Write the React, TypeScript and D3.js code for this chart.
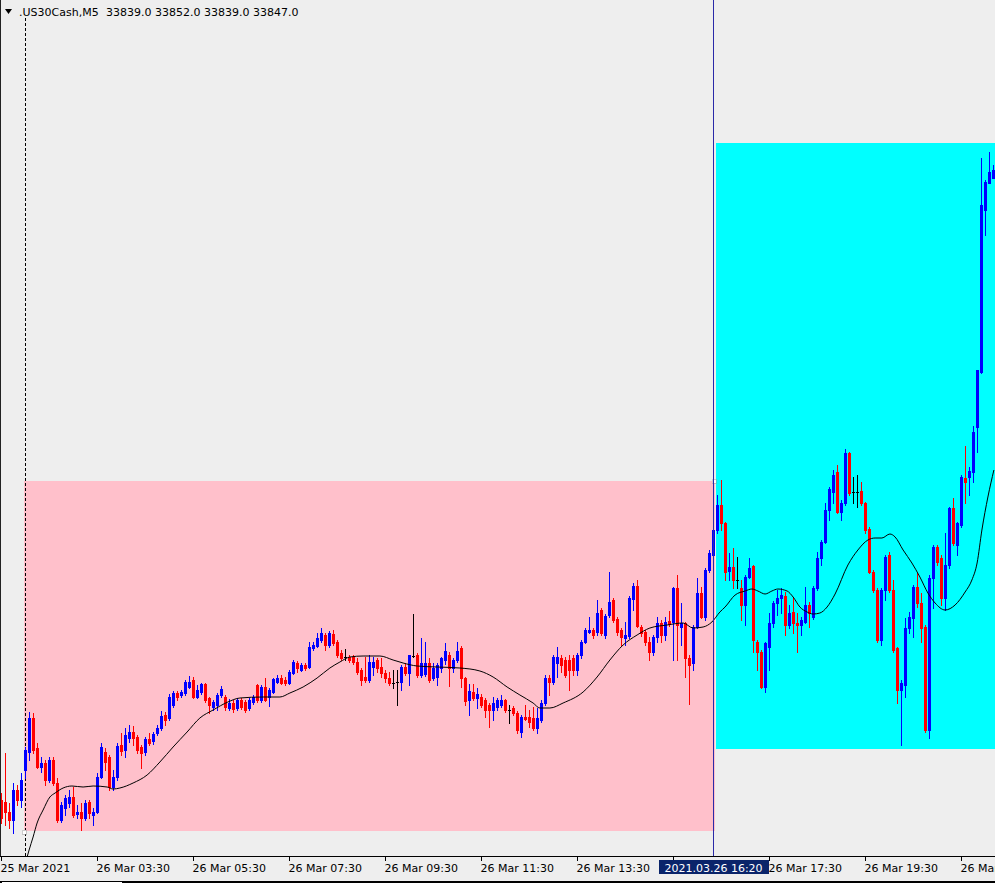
import React from 'react';
import * as d3 from 'd3';

const W = 995;
const H = 883;
const SYMBOL = '.US30Cash,M5';

const opens = [33217,33215,33205,33197,33227,33217,33247,33265,33299,33269,33250,33254,33237,33257,33234,33197,33209,33214,33220,33203,33205,33199,33215,33202,33205,33240,33265,33260,33230,33240,33272,33267,33279,33285,33280,33270,33265,33278,33276,33284,33289,33302,33299,33312,33324,33322,33324,33330,33337,33320,33325,33333,33319,33310,33312,33322,33320,33309,33314,33309,33317,33315,33309,33315,33332,33317,33330,33320,33325,33335,33339,33337,33334,33344,33354,33347,33352,33350,33369,33371,33377,33382,33372,33383,33375,33364,33360,33360,33360,33355,33347,33340,33337,33350,33357,33350,33344,33339,33334,33335,33335,33350,33344,33361,33362,33342,33343,33354,33339,33340,33349,33357,33362,33349,33357,33369,33339,33317,33325,33319,33320,33317,33312,33307,33310,33312,33317,33307,33309,33304,33285,33300,33300,33299,33289,33297,33314,33339,33335,33354,33359,33357,33357,33359,33347,33362,33375,33385,33387,33385,33407,33382,33402,33417,33398,33387,33379,33381,33418,33431,33390,33385,33375,33365,33380,33394,33382,33396,33395,33429,33390,33394,33359,33354,33390,33424,33400,33447,33462,33487,33512,33494,33446,33450,33437,33429,33412,33440,33451,33375,33365,33330,33370,33394,33414,33419,33421,33392,33405,33394,33392,33395,33412,33400,33429,33459,33475,33507,33525,33545,33505,33514,33564,33525,33525,33526,33514,33488,33445,33427,33377,33427,33462,33427,33369,33327,33332,33389,33399,33430,33414,33390,33287,33439,33470,33459,33419,33452,33509,33472,33492,33539,33540,33545,33590,33645,33807,33834,33839];
const highs = [33224,33264,33214,33234,33232,33244,33270,33305,33304,33274,33260,33257,33260,33260,33239,33215,33222,33227,33230,33212,33214,33217,33217,33209,33244,33274,33269,33262,33247,33274,33284,33289,33292,33291,33282,33272,33280,33284,33285,33292,33306,33305,33323,33326,33326,33327,33337,33341,33340,33332,33334,33334,33320,33317,33324,33331,33322,33318,33317,33319,33319,33317,33319,33322,33333,33332,33339,33329,33339,33342,33342,33340,33347,33357,33356,33354,33354,33375,33375,33384,33389,33384,33386,33387,33377,33367,33368,33362,33362,33359,33349,33360,33362,33360,33359,33359,33347,33345,33347,33347,33352,33354,33362,33403,33364,33379,33375,33359,33354,33354,33360,33374,33365,33359,33375,33371,33340,33333,33333,33329,33323,33319,33314,33320,33319,33322,33318,33312,33311,33306,33302,33312,33307,33310,33309,33317,33342,33342,33362,33370,33362,33360,33362,33362,33364,33377,33389,33400,33389,33417,33409,33403,33445,33419,33400,33389,33395,33421,33434,33437,33392,33387,33380,33382,33400,33397,33400,33406,33430,33442,33414,33395,33362,33392,33439,33430,33449,33467,33489,33522,33537,33495,33464,33469,33460,33437,33442,33459,33452,33377,33367,33375,33404,33416,33427,33429,33425,33412,33420,33404,33400,33430,33415,33431,33465,33477,33514,33530,33547,33552,33517,33568,33565,33540,33542,33535,33515,33490,33447,33429,33429,33462,33465,33437,33370,33337,33399,33405,33432,33444,33424,33392,33442,33472,33472,33462,33484,33510,33519,33495,33542,33571,33550,33591,33647,33859,33837,33865,33852];
const lows = [33194,33192,33189,33184,33212,33210,33239,33257,33264,33249,33245,33232,33235,33232,33195,33195,33202,33210,33200,33199,33187,33197,33199,33192,33204,33239,33247,33227,33227,33237,33262,33260,33275,33272,33264,33249,33262,33272,33273,33282,33287,33292,33297,33310,33317,33320,33322,33329,33319,33319,33323,33315,33304,33307,33307,33320,33307,33307,33305,33307,33308,33305,33307,33313,33315,33315,33316,33311,33324,33334,33333,33332,33333,33343,33345,33346,33347,33349,33367,33370,33375,33367,33370,33372,33360,33357,33357,33355,33353,33343,33332,33335,33335,33342,33345,33340,33335,33332,33329,33312,33327,33342,33332,33360,33340,33340,33341,33335,33337,33332,33345,33353,33331,33345,33355,33330,33312,33302,33317,33309,33310,33300,33290,33297,33307,33310,33305,33294,33302,33284,33280,33297,33290,33287,33284,33295,33312,33322,33333,33340,33345,33340,33327,33342,33342,33359,33374,33384,33379,33382,33382,33379,33400,33395,33382,33372,33372,33379,33407,33390,33381,33372,33357,33362,33375,33375,33377,33391,33357,33357,33372,33340,33313,33347,33389,33399,33397,33445,33459,33484,33487,33437,33437,33429,33429,33397,33392,33439,33365,33347,33329,33325,33347,33390,33402,33404,33382,33389,33384,33365,33382,33394,33390,33398,33427,33452,33474,33497,33514,33504,33497,33512,33522,33514,33510,33512,33484,33444,33425,33375,33372,33417,33425,33365,33314,33272,33320,33384,33380,33410,33375,33285,33279,33409,33452,33412,33407,33449,33472,33462,33490,33514,33522,33535,33565,33644,33782,33834,33839];
const closes = [33199,33205,33197,33227,33217,33237,33267,33299,33267,33250,33254,33237,33257,33234,33197,33212,33219,33220,33202,33205,33199,33214,33204,33205,33240,33270,33255,33230,33240,33271,33266,33282,33285,33279,33267,33264,33278,33274,33283,33289,33301,33297,33320,33324,33320,33325,33335,33335,33320,33327,33333,33317,33312,33315,33322,33328,33310,33314,33308,33317,33310,33307,33317,33320,33317,33330,33317,33327,33338,33339,33334,33334,33345,33355,33349,33352,33349,33370,33372,33379,33384,33372,33384,33374,33362,33359,33360,33357,33355,33345,33337,33337,33355,33355,33349,33344,33339,33334,33334,33335,33350,33344,33362,33361,33342,33354,33354,33337,33349,33352,33359,33366,33349,33357,33366,33339,33316,33326,33319,33323,33312,33307,33307,33314,33317,33317,33307,33307,33304,33287,33300,33298,33295,33289,33299,33314,33339,33335,33360,33360,33352,33342,33347,33347,33362,33375,33387,33387,33382,33404,33384,33401,33415,33397,33385,33380,33382,33419,33431,33391,33384,33375,33365,33380,33394,33382,33395,33393,33429,33392,33394,33359,33352,33390,33424,33400,33447,33464,33487,33512,33494,33445,33450,33437,33437,33412,33440,33449,33377,33365,33330,33374,33394,33414,33419,33422,33392,33404,33394,33392,33397,33412,33404,33429,33459,33475,33507,33528,33542,33505,33514,33564,33524,33525,33525,33514,33487,33445,33427,33377,33427,33460,33427,33367,33327,33334,33389,33400,33430,33414,33389,33287,33439,33470,33455,33419,33452,33509,33474,33494,33540,33535,33546,33585,33647,33812,33835,33845,33847];

// moving average: bar index and value
const maBars = [6.4,6.9,7.9,8.9,10.4,12.1,13.4,15.4,17.6,20.4,22.9,26.4,27.9,29.6,32.9,36.4,39.6,42.9,46.4,49.6,52.9,56.6,59.6,65.4,69.6,72.1,75.4,78.9,82.1,84.6,87.1,90.4,94.6,97.9,100.4,103.9,108.9,114.6,119.6,122.9,126.4,129.6,132.9,134.6,137.1,140.4,145.4,148.9,152.1,155.4,158.9,162.1,166.4,170.4,172.9,175.4,177.6,179.6,180.9,183.4,185.9,187.6,189.1,190.9,192.6,194.1,196.4,197.9,199.6,201.4,202.9,204.6,206.4,208.4,211.6,214.1,216.6,218.4,220.1,222.1,223.4,225.4,227.6,229.6,231.6,233.4,235.9,238.4,240.9,242.6,243.9,245.1,246.6,248.1];
const maValues = [33160,33167,33180,33194,33207,33220,33224,33229,33231,33230,33231,33230,33228,33229,33234,33242,33255,33270,33285,33299,33307,33315,33319,33320,33320,33324,33330,33339,33349,33355,33360,33361,33361,33357,33354,33351,33350,33349,33346,33340,33330,33322,33314,33309,33309,33314,33325,33340,33357,33372,33382,33389,33392,33394,33389,33390,33395,33405,33410,33422,33426,33428,33426,33423,33426,33428,33426,33420,33410,33405,33403,33404,33410,33423,33452,33467,33477,33479,33479,33483,33480,33467,33454,33440,33424,33414,33407,33412,33425,33437,33454,33487,33520,33547];

const tickBars = [0, 24, 48, 72, 96, 120, 144, 168, 192, 216, 240];
const tickLabels = ['25 Mar 2021', '26 Mar 03:30', '26 Mar 05:30', '26 Mar 07:30', '26 Mar 09:30', '26 Mar 11:30', '26 Mar 13:30', '26 Mar 15:30', '26 Mar 17:30', '26 Mar 19:30', '26 Mar 21:30'];

const separatorBar = 6;
const cursorBar = 178;
const cursorLabel = '2021.03.26 16:20';

// zones: [startBar, endBar, topPrice, bottomPrice]
const pinkZone = [5.9, 178.65, 33536, 33186];
const cyanZone = [178.9, 250, 33874, 33268];

const FONT = '"DejaVu Sans", Verdana, sans-serif';
const PLOT_BOTTOM = 857;

export default function App() {
  const n = Math.min(opens.length, highs.length, lows.length, closes.length);
  const x = d3.scaleLinear().domain([0, 1]).range([1.5, 5.5]);
  const y = d3.scaleLinear().domain([33160, 34017]).range([PLOT_BOTTOM, 0]);

  const maLine = d3
    .line<number>()
    .x((_, i) => x(maBars[i]))
    .y((d) => y(d))
    .curve(d3.curveMonotoneX);

  const last = n - 1;
  const headerVals = [opens[last], highs[last], lows[last], closes[last]].map((v) => Number(v).toFixed(1)).join(' ');

  const zoneRect = (z: number[], fill: string) => (
    <rect
      x={x(z[0]) - 1.5}
      y={y(z[2])}
      width={x(z[1]) - x(z[0])}
      height={y(z[3]) - y(z[2])}
      fill={fill}
    />
  );

  const cx = x(cursorBar);
  const boxL = cx - 55;
  const boxR = cx + 55;
  const idx = d3.range(n);
  // labels hidden under the cursor time box are not drawn (as in the terminal)
  const visibleTicks = tickBars
    .map((b, i) => ({ b, label: tickLabels[i] }))
    .filter(({ b }) => !(x(b) > boxL - 4 && x(b) < boxR));

  return (
    <svg width={W} height={H} style={{ display: 'block', position: 'absolute', left: 0, top: 0 }} shapeRendering="crispEdges">
      <rect x={0} y={0} width={W} height={H} fill="#EEEEEE" />
      <defs>
        <clipPath id="plot">
          <rect x={0} y={0} width={W} height={PLOT_BOTTOM} />
        </clipPath>
      </defs>
      {zoneRect(pinkZone, '#FFC0CB')}
      {zoneRect(cyanZone, '#00FFFF')}
      <line x1={x(separatorBar) - 0.5} x2={x(separatorBar) - 0.5} y1={18} y2={PLOT_BOTTOM} stroke="#000" strokeDasharray="3,2" />
      <g clipPath="url(#plot)">
        {idx.map((i) => {
          const o = opens[i];
          const c = closes[i];
          const col = o === c ? '#000000' : c > o ? '#0000FF' : '#FF0000';
          const cxi = x(i);
          const top = y(Math.max(o, c));
          const bot = y(Math.min(o, c));
          return (
            <g key={i}>
              <rect x={cxi - 0.5} y={y(highs[i])} width={1} height={y(lows[i]) - y(highs[i]) + 1} fill={col} />
              <rect x={cxi - 1.5} y={top} width={3} height={bot - top + 1} fill={col} />
            </g>
          );
        })}
        <path d={maLine(maValues) || ''} fill="none" stroke="#000" strokeWidth={1} shapeRendering="auto" />
      </g>
      <rect x={x(pinkZone[0]) - 3} y={y(pinkZone[3]) - 1} width={4} height={4} fill="#fff" stroke="#999" strokeWidth={0.5} />
      <rect x={x(pinkZone[1]) - 4} y={y(pinkZone[2]) - 2} width={4} height={4} fill="#fff" stroke="#999" strokeWidth={0.5} />
      <line x1={cx - 0.5} x2={cx - 0.5} y1={0} y2={PLOT_BOTTOM} stroke="#2A2AA8" />
      <line x1={0.5} x2={0.5} y1={0} y2={PLOT_BOTTOM} stroke="#222" />
      {/* header */}
      <path d="M5,9 L12,9 L8.5,14 Z" fill="#000" shapeRendering="auto" />
      <text x={19} y={16} fontFamily={FONT} fontSize={11} fill="#000">{SYMBOL}</text>
      <text x={106} y={16} fontFamily={FONT} fontSize={11} fill="#000">{headerVals}</text>
      {/* time axis */}
      <line x1={0} x2={W} y1={PLOT_BOTTOM - 0.5} y2={PLOT_BOTTOM - 0.5} stroke="#000" />
      {tickBars.map((b) => (
        <line key={'t' + b} x1={x(b) - 0.5} x2={x(b) - 0.5} y1={PLOT_BOTTOM} y2={PLOT_BOTTOM + 4} stroke="#000" />
      ))}
      {visibleTicks.map(({ b, label }) => (
        <text key={'l' + b} x={x(b) - 1} y={872} fontFamily={FONT} fontSize={11} fill="#000">{label}</text>
      ))}
      <rect x={boxL} y={860} width={110} height={14} fill="#0A246A" />
      <text x={cx} y={872} textAnchor="middle" fontFamily={FONT} fontSize={11} fill="#fff">{cursorLabel}</text>
      <rect x={0} y={881} width={W} height={2} fill="#000" />
      <rect x={2} y={882} width={120} height={1} fill="#fff" />
    </svg>
  );
}
